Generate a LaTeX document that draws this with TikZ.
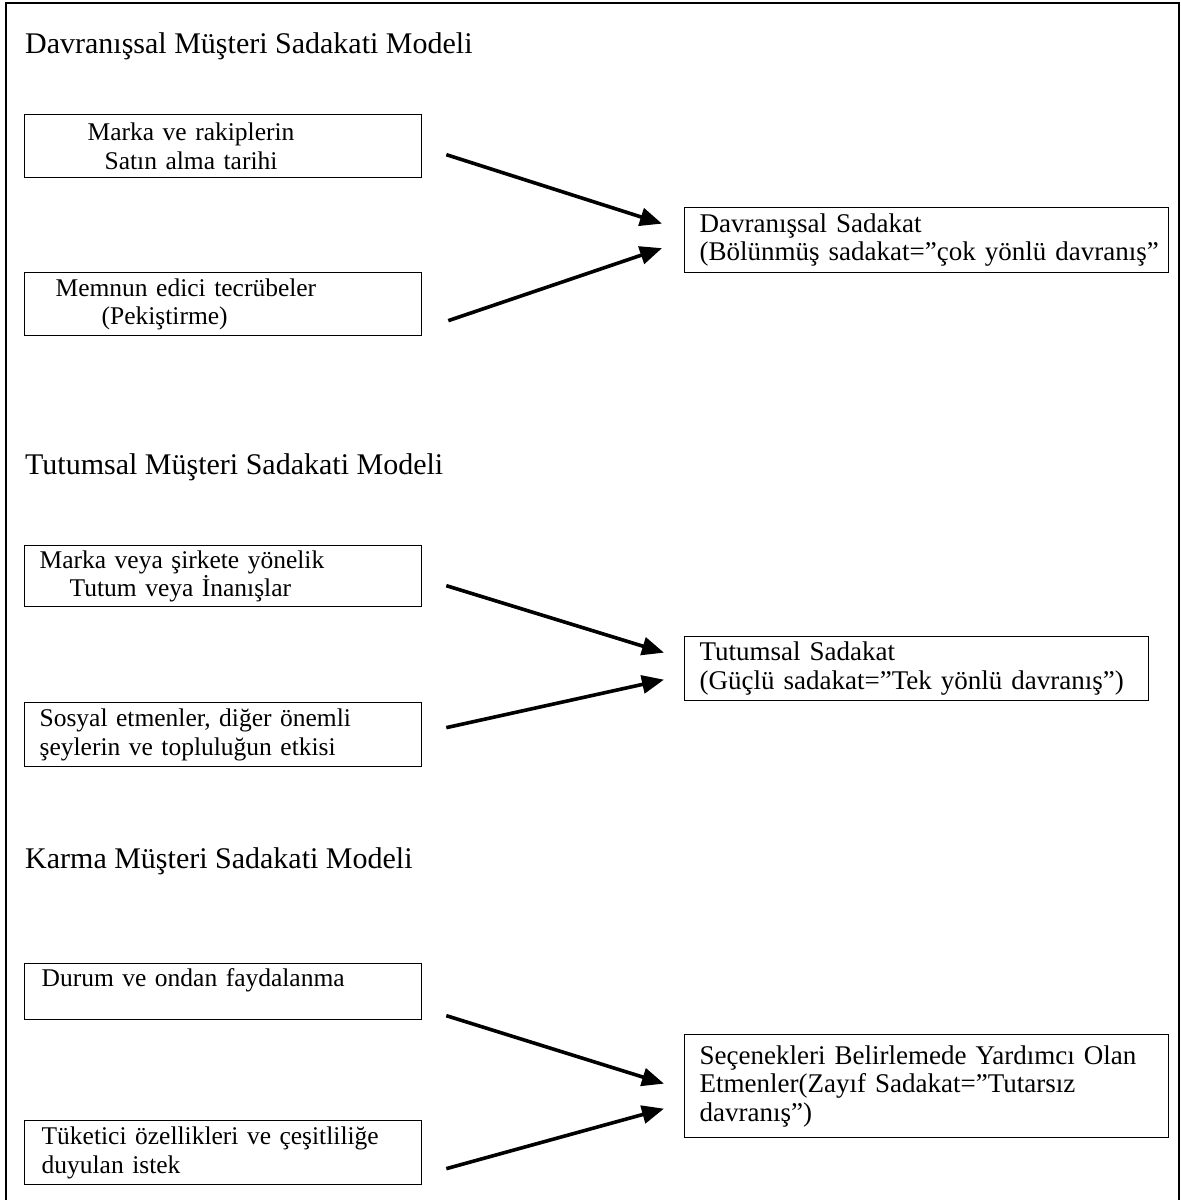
\documentclass[tikz,border=0pt]{standalone}
\usepackage{fontspec}
\setmainfont{Liberation Serif}
\usetikzlibrary{arrows.meta}
\begin{document}
\begin{tikzpicture}[x=1pt,y=1pt,
  frameline/.style={line width=1.8pt},
  title/.style={anchor=base west, inner sep=0pt, font=\fontsize{30}{34}\selectfont},
  srcbox/.style={draw, line width=1.3pt, anchor=north west, minimum width=397pt,
    text width=375pt, inner xsep=11pt, inner ysep=0pt, align=left,
    font=\fontsize{25.5}{28.5}\selectfont},
  tgtbox/.style={draw, line width=1.3pt, anchor=north west,
    inner xsep=15pt, inner ysep=0pt, align=left,
    font=\fontsize{27}{28.5}\selectfont},
  arr/.style={line width=3.6pt, -{Triangle[length=22pt,width=18pt]}}
]
\useasboundingbox (0,0) rectangle (1181,-1200);
\fill[white] (0,0) rectangle (1181,-1200);
% outer frame
\draw[frameline] (6,-1200) -- (6,-3) -- (1179,-3) -- (1179,-1200);

% Section 1
\node[title] (h1) at (25,-53) {Davranışsal Müşteri Sadakati Modeli};
\node[srcbox, minimum height=63pt] (b1) at (24,-114)
  {\hspace*{52pt}Marka ve rakiplerin\\\hspace*{69pt}Satın alma tarihi};
\node[srcbox, minimum height=63pt] (b2) at (24,-272)
  {\hspace*{20pt}Memnun edici tecrübeler\\\hspace*{66pt}(Pekiştirme)};
\node[tgtbox, minimum width=484pt, minimum height=65pt, text width=454pt] (t1) at (684,-207)
  {\mbox{Davranışsal Sadakat}\\\mbox{(Bölünmüş sadakat=”çok yönlü davranış”}};
\draw[arr] ([shift={(24pt,-8.5pt)}]b1.east) -- ([shift={(-22pt,16.5pt)}]t1.west);
\draw[arr] ([shift={(26pt,-16.5pt)}]b2.east) -- ([shift={(-22pt,-8pt)}]t1.west);

% Section 2
\node[title] (h2) at (25,-474) {Tutumsal Müşteri Sadakati Modeli};
\node[srcbox, minimum height=61pt] (b3) at (24,-545)
  {\hspace*{4pt}Marka veya şirkete yönelik\\\hspace*{34pt}Tutum veya İnanışlar};
\node[srcbox, minimum height=64pt] (b4) at (24,-702)
  {\hspace*{4pt}Sosyal etmenler, diğer önemli\\\hspace*{4pt}şeylerin ve topluluğun etkisi};
\node[tgtbox, minimum width=464pt, minimum height=64pt, text width=434pt] (t2) at (684,-636)
  {\mbox{Tutumsal Sadakat}\\\mbox{(Güçlü sadakat=”Tek yönlü davranış”)}};
\draw[arr] ([shift={(24pt,-9.5pt)}]b3.east) -- ([shift={(-20pt,16pt)}]t2.west);
\draw[arr] ([shift={(24pt,7pt)}]b4.east) -- ([shift={(-20pt,-11pt)}]t2.west);

% Section 3
\node[title] (h3) at (25,-868) {Karma Müşteri Sadakati Modeli};
\node[srcbox, minimum height=56pt] (b5) at (24,-963)
  {\hspace*{6pt}Durum ve ondan faydalanma\\[0pt]\mbox{}};
\node[srcbox, minimum height=64pt] (b6) at (24,-1120)
  {\hspace*{6pt}Tüketici özellikleri ve çeşitliliğe\\\hspace*{6pt}duyulan istek};
\node[tgtbox, minimum width=484pt, minimum height=103pt, text width=454pt] (t3) at (684,-1034)
  {\mbox{Seçenekleri Belirlemede Yardımcı Olan}\\\mbox{Etmenler(Zayıf Sadakat=”Tutarsız}\\\mbox{davranış”)}};
\draw[arr] ([shift={(24pt,-24pt)}]b5.east) -- ([shift={(-20pt,2.5pt)}]t3.west);
\draw[arr] ([shift={(24pt,-16pt)}]b6.east) -- ([shift={(-20pt,-22.5pt)}]t3.west);
\end{tikzpicture}
\end{document}
